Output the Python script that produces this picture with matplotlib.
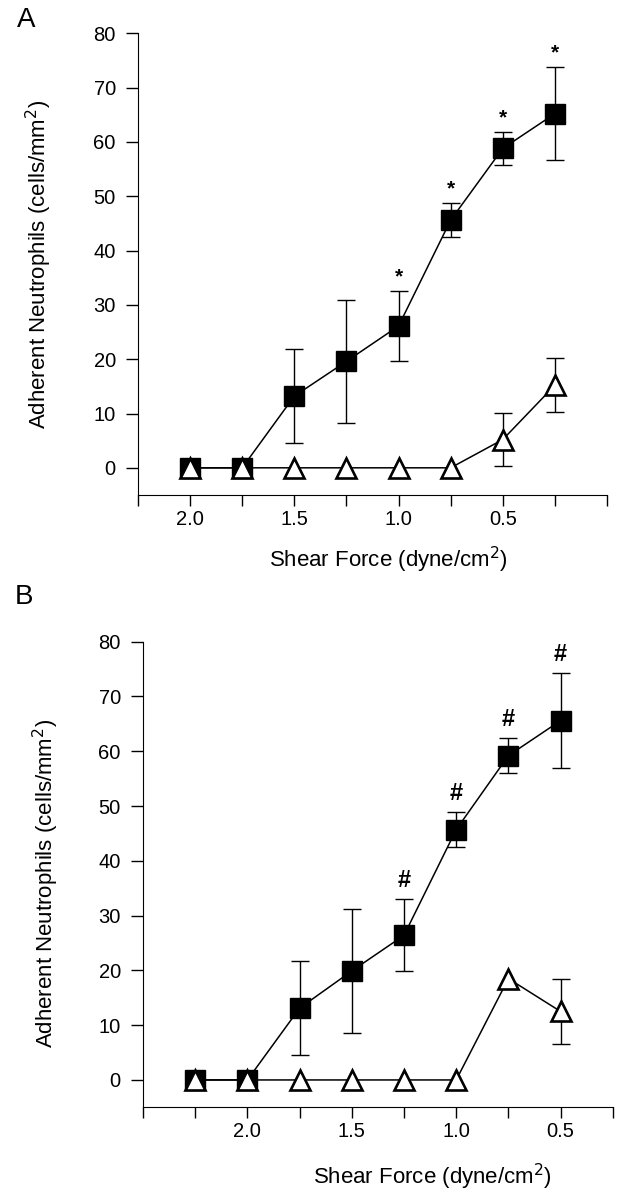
import numpy as np
import matplotlib.pyplot as plt

plt.rcParams['font.family'] = ['Liberation Sans', 'DejaVu Sans']

# Panel A data
shear_a = [2.0, 1.75, 1.5, 1.25, 1.0, 0.75, 0.5, 0.25]
sq_a = [0, 0, 13.2, 19.6, 26.1, 45.6, 58.8, 65.2]
sq_a_err = [0, 0, 8.6, 11.3, 6.5, 3.1, 3.1, 8.6]
tri_a = [0, 0, 0, 0, 0, 0, 5.2, 15.2]
tri_a_err = [0, 0, 0, 0, 0, 0, 4.9, 5.0]
sig_a = [False, False, False, False, True, True, True, True]

# Panel B data
shear_b = [2.25, 2.0, 1.75, 1.5, 1.25, 1.0, 0.75, 0.5]
sq_b = [0, 0, 13.1, 19.9, 26.4, 45.7, 59.2, 65.6]
sq_b_err = [0, 0, 8.6, 11.3, 6.6, 3.2, 3.2, 8.6]
tri_b = [0, 0, 0, 0, 0, 0, 18.5, 12.5]
tri_b_err = [0, 0, 0, 0, 0, 0, 0, 5.9]
sig_b = [False, False, False, False, True, True, True, True]

xticks_a = [2.25, 2.0, 1.75, 1.5, 1.25, 1.0, 0.75, 0.5, 0.25, 0.0]
xticks_b = [2.5, 2.25, 2.0, 1.75, 1.5, 1.25, 1.0, 0.75, 0.5, 0.25]
xlabels = ['2.0', '1.5', '1.0', '0.5']
yticks = [0, 10, 20, 30, 40, 50, 60, 70, 80]

TICK_FS = 14.5
LAB_FS = 16

fig = plt.figure(figsize=(6.19, 11.93), dpi=100)
ax_a = fig.add_axes([0.2229, 0.5851, 0.7577, 0.3870])
ax_b = fig.add_axes([0.2310, 0.0718, 0.7590, 0.3903])


def draw_panel(ax, x, sq, sq_err, tri, tri_err, sig, mark, xticks):
    x = np.array(x)
    sq = np.array(sq)
    sq_err = np.array(sq_err)
    tri = np.array(tri)
    tri_err = np.array(tri_err)

    m = sq_err > 0
    ax.errorbar(x[m], sq[m], yerr=sq_err[m], fmt='none', ecolor='black',
                elinewidth=1, capsize=6.5, capthick=1, zorder=2)
    ax.plot(x, sq, color='black', lw=1.1, marker='s', ms=14,
            mfc='black', mec='black', zorder=3)
    m = tri_err > 0
    ax.errorbar(x[m], tri[m], yerr=tri_err[m], fmt='none', ecolor='black',
                elinewidth=1, capsize=6.5, capthick=1, zorder=2)
    ax.plot(x, tri, color='black', lw=1.1, marker='^', ms=14.5,
            mfc='white', mec='black', mew=1.9, zorder=4)

    for xi, yi, ei, s in zip(x, sq, sq_err, sig):
        if s:
            if mark == '*':
                ax.text(xi, yi + ei + 2.6, '*', ha='center', va='center',
                        fontsize=15, fontweight='bold')
            else:
                ax.text(xi, yi + ei + 3.4, '#', ha='center', va='center',
                        fontsize=17, fontweight='bold')

    ax.set_xlim(xticks[0], xticks[-1])
    ax.set_ylim(-5, 80)
    ax.set_yticks(yticks)
    ax.set_xticks(xticks)
    ax.set_xticklabels([('%.1f' % t) if ('%.1f' % t) in xlabels else '' for t in xticks])
    ax.spines['top'].set_visible(False)
    ax.spines['right'].set_visible(False)
    ax.tick_params(direction='out', length=8.5, width=1, labelsize=TICK_FS)
    ax.tick_params(axis='y', pad=7.5)
    ax.tick_params(axis='x', length=8, pad=2.5)
    ax.set_ylabel('Adherent Neutrophils (cells/mm$^2$)', fontsize=LAB_FS)
    ax.set_xlabel('Shear Force (dyne/cm$^2$)', fontsize=LAB_FS)


draw_panel(ax_a, shear_a, sq_a, sq_a_err, tri_a, tri_a_err, sig_a, '*', xticks_a)
draw_panel(ax_b, shear_b, sq_b, sq_b_err, tri_b, tri_b_err, sig_b, '#', xticks_b)
ax_a.xaxis.set_label_coords(0.535, -0.108)
ax_b.xaxis.set_label_coords(0.617, -0.118)
ax_a.yaxis.set_label_coords(-0.178, 0.5)
ax_b.yaxis.set_label_coords(-0.175, 0.48)

fig.text(0.027, 0.983, 'A', fontsize=20, va='center')
fig.text(0.024, 0.4996, 'B', fontsize=20, va='center')

fig.savefig('out.png', dpi=100)
